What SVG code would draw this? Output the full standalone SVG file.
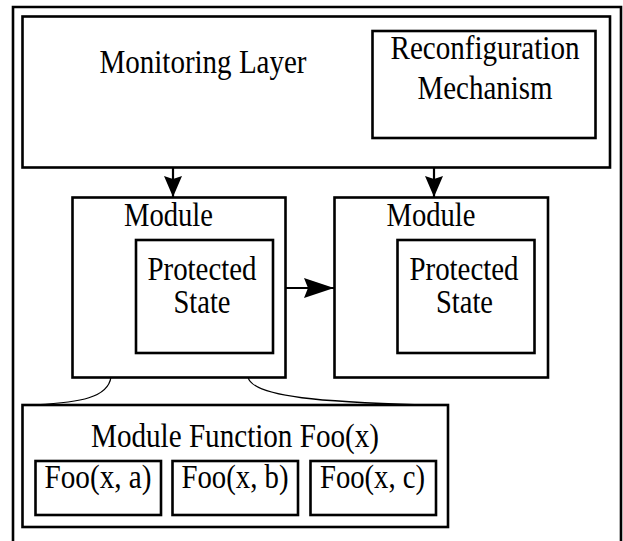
<svg xmlns="http://www.w3.org/2000/svg" width="623" height="541" viewBox="0 0 623 541">
  <style>
    .box { fill: #fff; stroke: #000; stroke-width: 2.6; }
    .lbl { font-family: "Liberation Serif", "Times New Roman", serif; font-size: 33px; fill: #000; text-anchor: middle; }
    .edge { fill: none; stroke: #000; stroke-width: 2.2; }
    .link { fill: none; stroke: #000; stroke-width: 1.3; }
  </style>
  <defs>
    <!-- short head for the vertical drops, longer one for the sideways link -->
    <marker id="arrow" markerUnits="userSpaceOnUse" viewBox="0 0 21 18" refX="21" refY="9" markerWidth="21" markerHeight="18" orient="auto">
      <path d="M0,0 L21,9 L0,18 L3,9 Z" fill="#000"/>
    </marker>
    <marker id="arrow-long" markerUnits="userSpaceOnUse" viewBox="0 0 30 20" refX="30" refY="10" markerWidth="30" markerHeight="20" orient="auto">
      <path d="M0,0 L30,10 L0,20 L4,10 Z" fill="#000"/>
    </marker>
  </defs>
  <rect width="623" height="541" fill="#fff"/>

  <!-- outer frame, open at the bottom edge -->
  <path d="M13,545 V7 H621 V545" fill="none" stroke="#000" stroke-width="2.6"/>

  <g id="monitoring-layer">
    <rect class="box" x="22.5" y="16.5" width="587.5" height="151"/>
    <text class="lbl" x="203" y="73" textLength="207" lengthAdjust="spacingAndGlyphs">Monitoring Layer</text>
  </g>

  <g id="reconfiguration">
    <rect class="box" x="372.5" y="31" width="223" height="107"/>
    <text class="lbl" x="485" y="59" textLength="189" lengthAdjust="spacingAndGlyphs">Reconfiguration</text>
    <text class="lbl" x="485" y="99" textLength="135" lengthAdjust="spacingAndGlyphs">Mechanism</text>
  </g>

  <g id="module-a">
    <rect class="box" x="72.5" y="197.5" width="213" height="180"/>
    <text class="lbl" x="168.5" y="226" textLength="89" lengthAdjust="spacingAndGlyphs">Module</text>
    <g id="state-a">
      <rect class="box" x="136" y="240" width="137" height="113"/>
      <text class="lbl" x="202" y="280" textLength="109" lengthAdjust="spacingAndGlyphs">Protected</text>
      <text class="lbl" x="202" y="313" textLength="57" lengthAdjust="spacingAndGlyphs">State</text>
    </g>
  </g>

  <g id="module-b">
    <rect class="box" x="334.5" y="197.5" width="213.5" height="180"/>
    <text class="lbl" x="431" y="226" textLength="89" lengthAdjust="spacingAndGlyphs">Module</text>
    <g id="state-b">
      <rect class="box" x="397.5" y="240" width="137" height="113"/>
      <text class="lbl" x="464" y="280" textLength="109" lengthAdjust="spacingAndGlyphs">Protected</text>
      <text class="lbl" x="464.5" y="313" textLength="57" lengthAdjust="spacingAndGlyphs">State</text>
    </g>
  </g>

  <g id="module-function">
    <rect class="box" x="22.5" y="405" width="425.5" height="122"/>
    <text class="lbl" x="235" y="447" textLength="288" lengthAdjust="spacingAndGlyphs">Module Function Foo(x)</text>
    <g id="foo-a">
      <rect class="box" x="35.5" y="461" width="125.5" height="54"/>
      <text class="lbl" x="98" y="488" textLength="107" lengthAdjust="spacingAndGlyphs">Foo(x, a)</text>
    </g>
    <g id="foo-b">
      <rect class="box" x="172.5" y="461" width="125.5" height="54"/>
      <text class="lbl" x="235" y="488" textLength="107" lengthAdjust="spacingAndGlyphs">Foo(x, b)</text>
    </g>
    <g id="foo-c">
      <rect class="box" x="310.5" y="461" width="125.5" height="54"/>
      <text class="lbl" x="372.5" y="488" textLength="105" lengthAdjust="spacingAndGlyphs">Foo(x, c)</text>
    </g>
  </g>

  <g id="connectors">
    <line class="edge" x1="173" y1="167" x2="173" y2="197" marker-end="url(#arrow)"/>
    <line class="edge" x1="434" y1="167" x2="434" y2="197" marker-end="url(#arrow)"/>
    <line class="edge" x1="286" y1="288" x2="334" y2="288" marker-end="url(#arrow-long)"/>
    <path class="link" d="M111,377 C108,398 80,402 36,405"/>
    <path class="link" d="M248,377 C252,398 330,402 421,405"/>
  </g>
</svg>
